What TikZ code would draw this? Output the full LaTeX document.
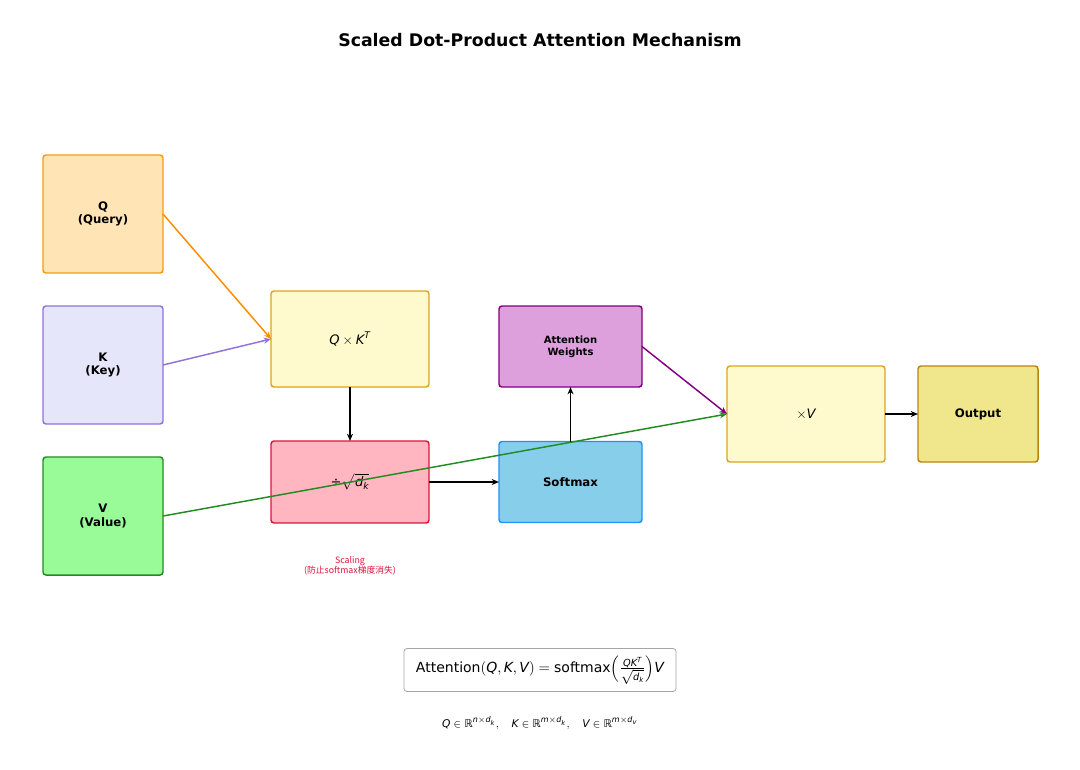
\documentclass[tikz,border=0pt]{standalone}
\usepackage{amsmath}
\usepackage{fontspec}
\setmainfont{DejaVu Sans}
\newfontfamily\cjk{Noto Sans CJK SC}
\usetikzlibrary{arrows.meta}
\definecolor{qfill}{HTML}{FFE4B5}\definecolor{qdraw}{HTML}{F39C12}\definecolor{qarrow}{HTML}{FF8C00}
\definecolor{kfill}{HTML}{E6E6FA}\definecolor{kdraw}{HTML}{9370DB}
\definecolor{vfill}{HTML}{98FB98}\definecolor{vdraw}{HTML}{228B22}
\definecolor{lemon}{HTML}{FFFACD}\definecolor{golden}{HTML}{DAA520}
\definecolor{pinkf}{HTML}{FFB6C1}\definecolor{crimsonc}{HTML}{DC143C}
\definecolor{plumf}{HTML}{DDA0DD}\definecolor{purplec}{HTML}{800080}
\definecolor{skyf}{HTML}{87CEEB}\definecolor{dodger}{HTML}{1E90FF}
\definecolor{khakif}{HTML}{F0E68C}\definecolor{dgold}{HTML}{B8860B}
\newcommand{\mvar}[1]{\text{\itshape #1}}
\tikzset{
  box/.style={draw, line width=1.1pt, rounded corners=2.25pt, inner sep=0pt, outer sep=0pt, align=center, font=\fontsize{8.8}{9.8}\selectfont\bfseries},
  inbox/.style={box, minimum width=90pt, minimum height=88.5pt},
  opbox/.style={box, minimum width=118.5pt, minimum height=72pt, font=\fontsize{9.8}{11}\selectfont},
  smbox/.style={box, minimum width=107.25pt, minimum height=60.75pt},
  arr/.style={line width=1.1pt, -{Stealth[length=5.5pt,width=4.5pt]}},
}
\begin{document}
\begin{tikzpicture}[x=0.75pt,y=-0.75pt]
\useasboundingbox (0,0) rectangle (1080,769);
\node[font=\fontsize{13}{15}\selectfont\bfseries] (title) at (540,40) {Scaled Dot-Product Attention Mechanism};
\node[inbox, fill=qfill, draw=qdraw] (Q) at (103,214) {Q\\(Query)};
\node[inbox, fill=kfill, draw=kdraw] (K) at (103,365) {K\\(Key)};
\node[inbox, fill=vfill, draw=vdraw] (V) at (103,516) {V\\(Value)};
\node[opbox, fill=lemon, draw=golden] (QK) at (350,339) {$\mvar{Q}\times\mvar{K}^{\mvar{T}}$};
\node[opbox, fill=pinkf, draw=crimsonc, minimum height=61.5pt] (S) at (350,482) {÷$\sqrt{\mvar{d}_{\mvar{k}}}$};
\node[smbox, fill=plumf, draw=purplec, font=\fontsize{7.5}{9}\selectfont\bfseries] (AW) at (570.5,346.5) {Attention\\Weights};
\node[smbox, fill=skyf, draw=dodger] (SM) at (570.5,482) {Softmax};
\node[opbox, fill=lemon, draw=golden] (XV) at (806,414) {$\times\mvar{V}$};
\node[box, fill=khakif, draw=dgold, minimum width=90pt, minimum height=72pt] (O) at (978,414) {Output};
\node[text=crimsonc, align=center, font=\cjk\fontsize{6.6}{7.4}\selectfont] (note) at (350,566) {Scaling\\(防止softmax梯度消失)};
\node[draw=gray!70, fill=white, rounded corners=2.25pt, line width=0.6pt, minimum width=204pt, minimum height=32.25pt, inner sep=0pt, font=\fontsize{10.5}{12}\selectfont] (F) at (540,670)
  {$\text{Attention}(\mvar{Q},\mvar{K},\mvar{V})=\text{softmax}\Bigl(\frac{\mvar{Q}\mvar{K}^{\mvar{T}}}{\sqrt{\mvar{d}_{\mvar{k}}}}\Bigr)\mvar{V}$};
\node[font=\fontsize{8}{9}\selectfont] (dims) at (540,723)
  {$\mvar{Q}\in\text{ℝ}^{\mvar{n}\times\mvar{d}_{\mvar{k}}},\quad \mvar{K}\in\text{ℝ}^{\mvar{m}\times\mvar{d}_{\mvar{k}}},\quad \mvar{V}\in\text{ℝ}^{\mvar{m}\times\mvar{d}_{\mvar{v}}}$};
\draw[arr, qarrow] (Q.east) -- (QK.west);
\draw[arr, kdraw] (K.east) -- (QK.west);
\draw[arr, vdraw] (V.east) -- (XV.west);
\draw[arr, purplec] (AW.east) -- (XV.west);
\draw[arr, black] (QK.south) -- (S.north);
\draw[arr, black] (S.east) -- (SM.west);
\draw[arr, black] (SM.north) -- (AW.south);
\draw[arr, black] (XV.east) -- (O.west);
\end{tikzpicture}
\end{document}
